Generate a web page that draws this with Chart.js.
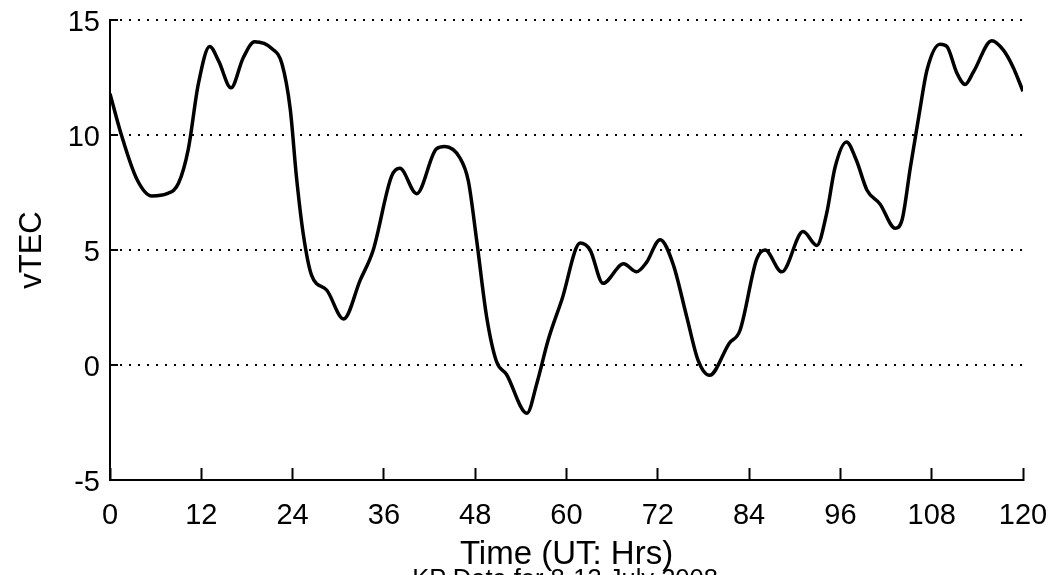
<!DOCTYPE html>
<html>
<head>
<meta charset="utf-8">
<script src="https://cdn.jsdelivr.net/npm/chart.js@4/dist/chart.umd.min.js"></script>
<style>
  html, body { margin: 0; padding: 0; background: #fff; overflow: hidden; }
  #wrap { position: relative; width: 1055px; height: 575px; }
  #kp {
    position: absolute; left: 0; width: 1130px; top: 564px;
    text-align: center; font: 25.5px "Liberation Sans", Arial, sans-serif; color: #000;
  }
</style>
</head>
<body>
<div id="wrap">
  <canvas id="tec" width="1055" height="575"></canvas>
  <div id="kp">KP Data for 8-13 July 2008</div>
</div>
<script>
// vTEC series, hours since start of 8 July (UT)
const hours = [0, 1.5, 3.5, 5.5, 7.5, 9, 10.3, 11.6, 13.1, 14.3, 15.9, 17.5, 19.0, 21.3, 22.6, 23.7,
  24.5, 25.4, 26.5, 28.5, 30.7, 32.9, 34.6, 37.0, 38.1, 40.3, 42.9, 44.0, 46.0, 47.1, 48.2, 49.5,
  50.8, 52.1, 54.8, 56.1, 57.6, 59.4, 61.8, 63.1, 64.8, 67.5, 69.2, 70.5, 72.3, 74.0, 75.8, 77.3,
  78.8, 81.4, 82.8, 85.0, 86.1, 88.3, 91.1, 92.9, 94.2, 95.3, 96.8, 98.1, 99.5, 101.2, 103.2, 104.1,
  105.2, 106.3, 107.4, 109.1, 110.0, 111.3, 112.4, 113.5, 115.9, 117.4, 118.7, 120];
const vtec = [11.8, 10.0, 8.1, 7.35, 7.45, 7.9, 9.4, 12.2, 13.85, 13.2, 12.05, 13.35, 14.05, 13.75, 13.1, 11.1,
  8.2, 5.7, 3.9, 3.25, 2.0, 3.7, 5.0, 8.2, 8.55, 7.45, 9.4, 9.5, 9.0, 8.0, 5.4, 2.1,
  0.15, -0.4, -2.1, -0.8, 1.1, 2.85, 5.3, 5.0, 3.55, 4.4, 4.05, 4.45, 5.45, 4.4, 2.1, 0.2,
  -0.45, 0.95, 1.5, 4.6, 5.0, 4.05, 5.8, 5.2, 6.6, 8.6, 9.7, 8.9, 7.6, 7.0, 5.95, 6.3,
  8.6, 10.8, 12.85, 13.95, 13.85, 12.7, 12.2, 12.75, 14.1, 13.7, 12.95, 11.9];
const xTicks = [0, 12, 24, 36, 48, 60, 72, 84, 96, 108, 120];
const yTicks = [-5, 0, 5, 10, 15];

const FONT = '"Liberation Sans", Arial, sans-serif';
const points = hours.map((h, i) => ({ x: h, y: vtec[i] }));

// fixed axis boxes; label overhang handled by layout padding instead
function fixBox(s, size) {
  if (s.isHorizontal()) s.height = size; else s.width = size;
  s.paddingTop = s.paddingBottom = s.paddingLeft = s.paddingRight = 0;
}

new Chart(document.getElementById('tec'), {
  type: 'line',
  data: {
    datasets: [{
      data: points,
      borderColor: '#000',
      borderWidth: 3.5,
      pointRadius: 0,
      cubicInterpolationMode: 'monotone',
      fill: false
    }]
  },
  options: {
    responsive: false,
    animation: false,
    layout: { padding: { top: 20, right: 32, left: 0, bottom: 0 } },
    plugins: { legend: { display: false }, tooltip: { enabled: false } },
    scales: {
      x: {
        type: 'linear',
        min: 0, max: 120,
        afterFit: (s) => fixBox(s, 95),
        afterBuildTicks: (s) => { s.ticks = xTicks.map(v => ({ value: v })); },
        grid: { drawOnChartArea: false, drawTicks: true, tickLength: -12, tickColor: '#000', tickWidth: 2 },
        border: { display: true, color: '#000', width: 2 },
        ticks: { color: '#000', padding: 31, maxRotation: 0, font: { family: FONT, size: 29 } },
        title: {
          display: true, text: 'Time (UT: Hrs)', color: '#000',
          font: { family: FONT, size: 33, lineHeight: 1.2 }, padding: { top: 0, bottom: 0 }
        }
      },
      y: {
        min: -5, max: 15,
        afterFit: (s) => fixBox(s, 110),
        afterBuildTicks: (s) => { s.ticks = yTicks.map(v => ({ value: v })); },
        grid: {
          color: (c) => (c.tick && c.tick.value === -5 ? 'rgba(0,0,0,0)' : '#000'),
          lineWidth: 2,
          drawTicks: true, tickLength: -8, tickColor: '#000', tickWidth: 2, tickBorderDash: []
        },
        border: { display: true, color: '#000', width: 2, dash: [2, 7] },
        ticks: { color: '#000', padding: 18, labelOffset: 3, font: { family: FONT, size: 29 } },
        title: {
          display: true, text: 'vTEC', color: '#000',
          font: { family: FONT, size: 31, lineHeight: 1.2 }, padding: { top: 14, bottom: 0 }
        }
      }
    }
  }
});
</script>
</body>
</html>
